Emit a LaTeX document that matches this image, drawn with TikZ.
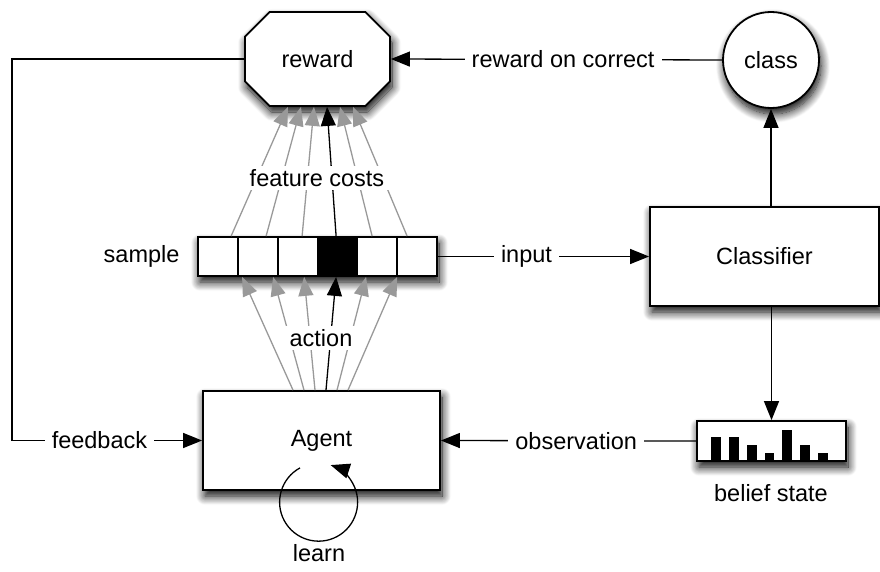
\documentclass[tikz,border=0pt]{standalone}
\usepackage{fontspec}
\setmainfont{Liberation Sans}
\usetikzlibrary{arrows.meta,shapes.misc,shadows.blur}

\tikzset{
  base/.style={font=\fontsize{23.5}{27}\selectfont},
  soft/.style={blur shadow={shadow xshift=2pt,shadow yshift=-6pt,shadow blur radius=9pt,shadow blur steps=12,shadow opacity=100}},
  box/.style={draw,line width=1.8pt,fill=white,soft,inner sep=0pt},
  cell/.style={draw,line width=1.8pt,fill=white,minimum width=39.8pt,minimum height=39pt,inner sep=0pt},
  conn/.style={line width=1.3pt,-{Triangle[length=19pt,width=15pt]}},
  fan/.style={conn,draw=black!40,-{Triangle[length=19pt,width=15pt,fill=black!40]}},
  hot/.style={conn},
  lbl/.style={fill=white,inner xsep=7pt,inner ysep=3pt},
  bar/.style={fill=black,draw=none}
}

\begin{document}
\begin{tikzpicture}[base,x=1pt,y=1pt]
\useasboundingbox (0,0) rectangle (880,-572);

% main components
\node[box,chamfered rectangle,chamfered rectangle xsep=16pt,chamfered rectangle ysep=16pt,
      minimum width=145pt,minimum height=94pt] (reward) at (317.5,-59) {reward};
\node[box,circle,minimum size=96pt] (class) at (771,-60) {class};
\node[box,minimum width=229pt,minimum height=99pt] (clf) at (764.5,-256.5) {Classifier};
\node[box,minimum width=237pt,minimum height=99pt] (agent) at (321.5,-440.5) {Agent};
\node[box,minimum width=149pt,minimum height=40pt] (belief) at (771.5,-441) {};
\node (bcap) at (771,-493) {belief state};

% feature vector: one shadow under the whole strip, then the cells
\node[soft,fill=white,minimum width=239pt,minimum height=39pt,inner sep=0pt] (strip) at (317.5,-256.5) {};
\foreach \i in {1,...,6}{
  \node[cell] (c\i) at ({198+39.8*(\i-0.5)},-256.5) {};
}
\node[cell,fill=black] (c4) at ({198+39.8*3.5},-256.5) {};
\node[anchor=east] (samp) at (183,-256) {sample};

% belief histogram
\foreach \dx/\h in {15/25,33/25,51/17,68.5/9,86/32,104/17,122/9}{
  \fill[bar] ([xshift=\dx pt]belief.south west) rectangle ++(9.5,\h);
}

% costs: feature cells up to reward
\foreach \a/\b in {34/-29.5,69/-16.5,105/-3.5,175/22.5,210/35.5}{
  \draw[fan] ([xshift=\a pt]c1.north west) -- ([xshift=\b pt]reward.south);
}
\draw[hot] ([xshift=139pt]c1.north west) -- ([xshift=9.5pt]reward.south);

% actions: agent up to feature cells
\foreach \a/\b in {-28.5/45,-17.5/76,-6.5/107,15.5/169,26.5/200}{
  \draw[fan] ([xshift=\a pt]agent.north) -- ([xshift=\b pt]c1.south west);
}
\draw[hot] ([xshift=4.5pt]agent.north) -- ([xshift=139pt]c1.south west);

\node[lbl] (fc) at (317,-178) {feature costs};
\node[lbl] (act) at (321,-338) {action};

% data flow
\draw[conn] (class.west) -- node[lbl,pos=0.48] {reward on correct} (reward.east);
\draw[conn] (c6.east) -- node[lbl,pos=0.42] {input} (clf.west);
\draw[conn] (class.south |- clf.north) -- (class.south);
\draw[conn] (belief.north |- clf.south) -- (belief.north);
\draw[conn] (belief.west) -- node[lbl,pos=0.47] {observation} (agent.east);

% feedback loop
\coordinate (fbk) at (12,-59);
\draw[conn] (reward.west) -- (fbk) |- node[lbl,pos=0.73] {feedback} (agent.west);

% learning self-loop
\coordinate (ls) at ([xshift=-21.5pt,yshift=23pt]agent.south);
\draw[conn] (ls) arc[start angle=118.5,end angle=432,radius=39pt];
\node (learn) at (319,-553) {learn};
\end{tikzpicture}
\end{document}
